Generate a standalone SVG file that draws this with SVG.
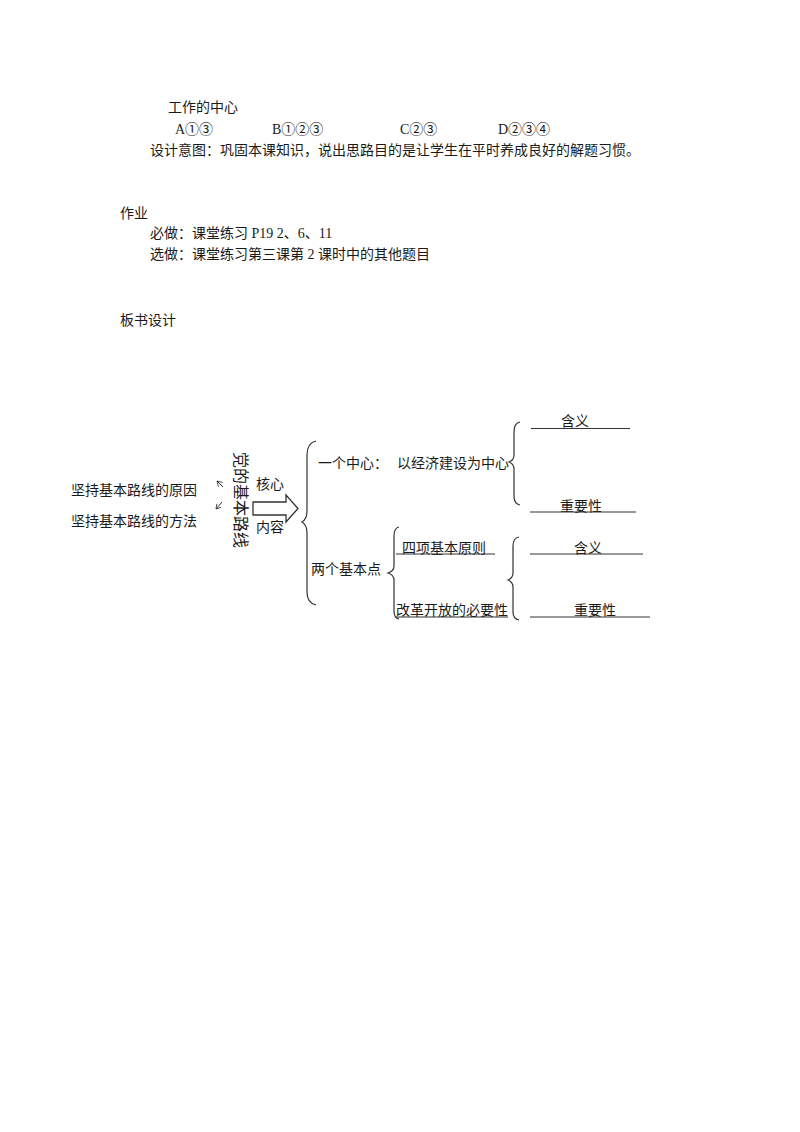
<svg xmlns="http://www.w3.org/2000/svg" width="800" height="1132" viewBox="0 0 800 1132">
<style>
  text { font-family: "Liberation Serif", "Noto Sans CJK SC", serif; font-size: 14px; fill: #1a1a1a; }
  .v { font-size: 16px; }
  .ln { stroke: #333; stroke-width: 1; fill: none; }
  .br { stroke: #333; stroke-width: 1.2; fill: none; }
</style>
<defs>
  <marker id="ah" markerWidth="6" markerHeight="6" refX="5" refY="3" orient="auto" markerUnits="userSpaceOnUse">
    <path d="M0,0 L5,3 L0,6" fill="none" stroke="#333" stroke-width="0.8"/>
  </marker>
</defs>
<rect width="800" height="1132" fill="#fff"/>

<g id="text-top">
  <text x="168" y="112">工作的中心</text>
  <text x="175" y="134">A①③</text>
  <text x="272" y="134">B①②③</text>
  <text x="400" y="134">C②③</text>
  <text x="498" y="134">D②③④</text>
  <text x="150" y="155">设计意图：巩固本课知识，说出思路目的是让学生在平时养成良好的解题习惯。</text>
  <text x="120" y="218">作业</text>
  <text x="150" y="238">必做：课堂练习 P19 2、6、11</text>
  <text x="150" y="259">选做：课堂练习第三课第 2 课时中的其他题目</text>
  <text x="120" y="325">板书设计</text>
</g>

<g id="n-reason"><text x="71" y="495">坚持基本路线的原因</text></g>
<g id="n-method"><text x="71" y="526">坚持基本路线的方法</text></g>

<g id="n-line">
  <text class="v" transform="translate(235,500) rotate(90)" text-anchor="middle">党的基本路线</text>
</g>
<g id="n-core"><text x="256" y="489">核心</text></g>
<g id="n-content"><text x="256" y="532">内容</text></g>

<g id="n-center-label"><text x="318" y="468">一个中心：</text></g>
<g id="n-center"><text x="397" y="468">以经济建设为中心</text></g>
<g id="n-meaning1"><text x="561" y="426">含义</text></g>
<g id="n-importance1"><text x="560" y="511">重要性</text></g>
<g id="n-two-points"><text x="311" y="574">两个基本点</text></g>
<g id="n-four"><text x="402" y="553">四项基本原则</text></g>
<g id="n-reform"><text x="396" y="615">改革开放的必要性</text></g>
<g id="n-meaning2"><text x="574" y="553">含义</text></g>
<g id="n-importance2"><text x="574" y="615">重要性</text></g>

<g id="connectors">
  <!-- small arrows -->
  <line class="ln" x1="223" y1="487" x2="217" y2="481" marker-end="url(#ah)"/>
  <line class="ln" x1="222" y1="502" x2="216" y2="509" marker-end="url(#ah)"/>
  <!-- hollow block arrow -->
  <path d="M253,502 L286,502 L286,495 L298,508.5 L286,522 L286,515 L253,515 Z" fill="#fff" stroke="#333" stroke-width="1.3"/>
  <!-- brace 1 -->
  <path class="br" d="M316,441 Q307,443 307,455 L307,511 Q307,519 302,522 Q307,525 307,533 L307,592 Q307,603 316,605"/>
  <!-- brace 2 -->
  <path class="br" d="M520,422 Q514,423 514,432 L514,455 Q514,460 509,462 Q514,464 514,469 L514,496 Q514,504 520,505"/>
  <!-- brace 3 -->
  <path class="br" d="M399,527 Q394,528 394,536 L394,566 Q394,571 388,573 Q394,575 394,580 L394,611 Q394,618 399,619"/>
  <!-- brace 4 -->
  <path class="br" d="M519,537 Q513,538 513,546 L513,573 Q513,578 508,580 Q513,582 513,587 L513,612 Q513,619 519,620"/>
  <!-- underlines -->
  <line class="ln" x1="531" y1="428.5" x2="630" y2="428.5"/>
  <line class="ln" x1="530" y1="512" x2="636" y2="512"/>
  <line class="ln" x1="396" y1="554" x2="495" y2="554"/>
  <line class="ln" x1="396" y1="617" x2="508" y2="617"/>
  <line class="ln" x1="530" y1="554" x2="643" y2="554"/>
  <line class="ln" x1="530" y1="617" x2="650" y2="617"/>
</g>
</svg>
